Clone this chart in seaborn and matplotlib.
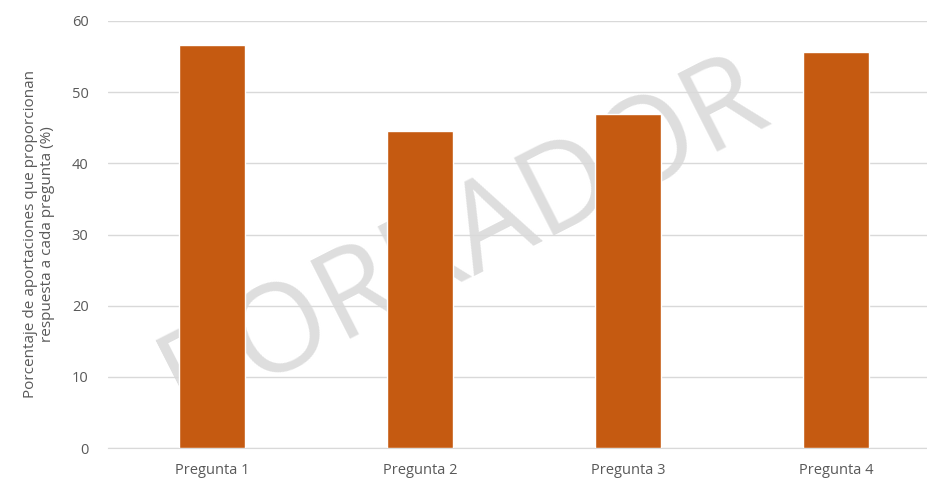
import matplotlib
matplotlib.use("Agg")
import matplotlib.pyplot as plt
import seaborn as sns
import pandas as pd

# datos
preguntas = ["Pregunta 1", "Pregunta 2", "Pregunta 3", "Pregunta 4"]
porcentajes = [56.6, 44.6, 47.0, 55.6]
y_ticks = [0, 10, 20, 30, 40, 50, 60]

df = pd.DataFrame({"Pregunta": preguntas, "Porcentaje": porcentajes})

sns.set_style("white")
plt.rcParams["font.family"] = ["Open Sans", "DejaVu Sans"]

fig = plt.figure(figsize=(9.28, 4.78), dpi=100)
ax = fig.add_axes([108 / 928, 30 / 478, 832 / 928, 427 / 478])

# marca de agua detras de las barras
fig.text(0.5, 0.5, "BORRADOR", fontsize=88, color="#dedede", rotation=27,
         ha="center", va="center", zorder=0)
ax.set_zorder(1)
ax.patch.set_alpha(0)

sns.barplot(data=df, x="Pregunta", y="Porcentaje", color="#c55a11",
            saturation=1, width=0.317, ax=ax, zorder=3)

ax.set_ylim(0, 60)
ax.set_yticks(y_ticks)
ax.yaxis.grid(True, color="#d9d9d9", linewidth=1, zorder=0)
ax.set_axisbelow(True)
for s in ["top", "right", "left"]:
    ax.spines[s].set_visible(False)
ax.spines["bottom"].set_color("#d9d9d9")
ax.tick_params(axis="both", length=0, colors="#595959", labelsize=10.5)
ax.tick_params(axis="y", pad=14)
ax.tick_params(axis="x", pad=11)
ax.set_xlabel("")
ax.set_ylabel("Porcentaje de aportaciones que proporcionan\nrespuesta a cada pregunta (%)",
              color="#595959", fontsize=11, labelpad=12)

fig.savefig("out.png", dpi=100)
